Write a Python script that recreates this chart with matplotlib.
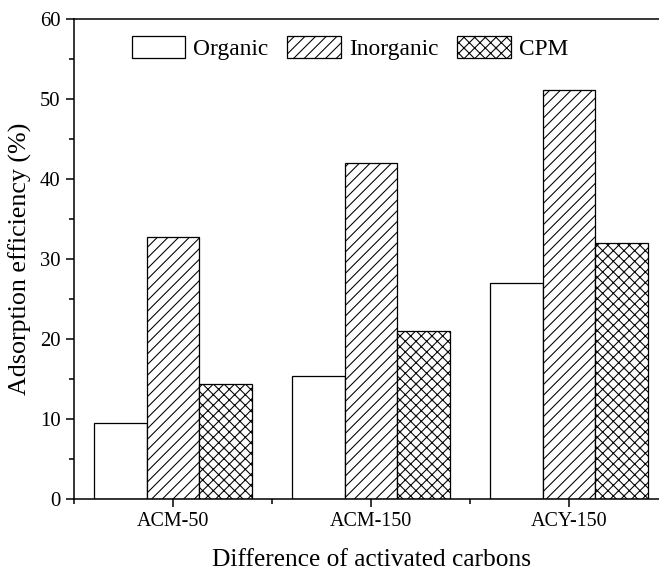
import numpy as np
import matplotlib
matplotlib.use("Agg")
import matplotlib.pyplot as plt
from matplotlib.ticker import MultipleLocator

plt.rcParams['font.family'] = ['Liberation Serif', 'DejaVu Serif']
plt.rcParams['hatch.linewidth'] = 0.8

carbons = ['ACM-50', 'ACM-150', 'ACY-150']
organic = [9.5, 15.4, 27.0]
inorganic = [32.8, 42.0, 51.1]
cpm = [14.4, 21.0, 32.0]

series = [('Organic', organic, ''), ('Inorganic', inorganic, '///'), ('CPM', cpm, 'xxx')]

dpi = 96
fig = plt.figure(figsize=(659 / dpi, 570 / dpi), dpi=dpi)
# the right edge of the axes falls just outside the picture, as in the original
ax = fig.add_axes([74 / 659, 1 - 499 / 570, 594 / 659, 480 / 570])

x = np.arange(len(carbons))
w = 0.265
for k, (name, vals, hatch) in enumerate(series):
    ax.bar(x + (k - 1) * w, vals, w, color='white', edgecolor='black',
           linewidth=0.95, hatch=hatch, label=name)

ax.set_xlim(-0.5, 2.5)
ax.set_ylim(0, 60)
ax.set_xticks(x)
ax.set_xticklabels(carbons)
ax.xaxis.set_minor_locator(MultipleLocator(0.5))
ax.yaxis.set_major_locator(MultipleLocator(10))
ax.yaxis.set_minor_locator(MultipleLocator(5))

ax.tick_params(which='major', direction='out', length=6, width=1.15, labelsize=15, pad=4)
ax.tick_params(axis='y', which='major', labelsize=15.5)
ax.tick_params(which='minor', direction='out', length=3.8, width=1.15)
for s in ax.spines.values():
    s.set_linewidth(1.15)

ax.set_xlabel('Difference of activated carbons', fontsize=19, labelpad=13)
ax.set_ylabel('Adsorption efficiency (%)', fontsize=19.5, labelpad=6)

leg = fig.legend(loc='center', bbox_to_anchor=(350 / 659, 1 - 48 / 570), ncol=3,
                 frameon=False, fontsize=17.5, handlelength=2.3, handleheight=1.05,
                 handletextpad=0.35, columnspacing=0.8, borderaxespad=0)

fig.savefig('out.png', dpi=dpi)
